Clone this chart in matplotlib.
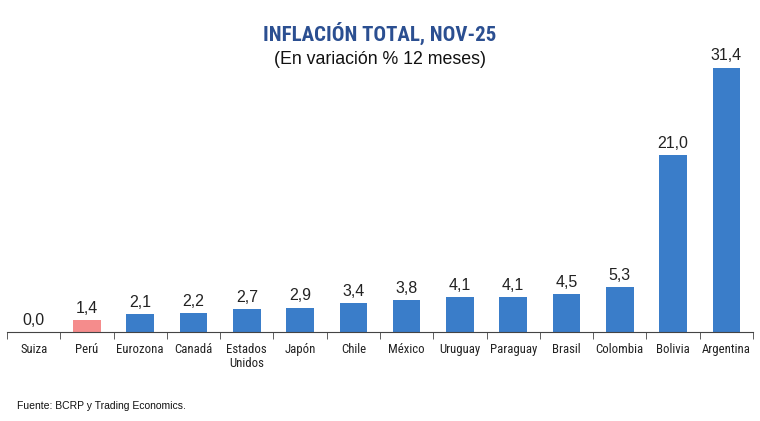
import numpy as np
import matplotlib.pyplot as plt
from matplotlib.ticker import FixedLocator

paises = ["Suiza", "Perú", "Eurozona", "Canadá", "Estados\nUnidos", "Japón", "Chile",
          "México", "Uruguay", "Paraguay", "Brasil", "Colombia", "Bolivia", "Argentina"]
inflacion = [0.0, 1.4, 2.1, 2.2, 2.7, 2.9, 3.4, 3.8, 4.1, 4.1, 4.5, 5.3, 21.0, 31.4]
etiquetas = ["0,0", "1,4", "2,1", "2,2", "2,7", "2,9", "3,4", "3,8", "4,1", "4,1", "4,5", "5,3", "21,0", "31,4"]

azul = "#3A7DC9"
rosa = "#F58C8C"
colores = [rosa if p == "Perú" else azul for p in paises]

estrecha = ['Roboto Condensed', 'Liberation Sans', 'DejaVu Sans']
normal = ['Liberation Sans', 'DejaVu Sans']
plt.rcParams['font.family'] = normal

fig = plt.figure(figsize=(7.6, 4.21), dpi=100)
ax = fig.add_axes([7 / 760, 1 - 332 / 421, 746 / 760, 282 / 421])

x = np.arange(len(paises))
bars = ax.bar(x, inflacion, width=0.52, color=colores)

for b, t in zip(bars, etiquetas):
    ax.text(b.get_x() + b.get_width() / 2, b.get_height() + 0.5, t,
            ha="center", va="bottom", fontsize=11.5, color="#222222")

ax.set_xlim(-0.5, len(paises) - 0.5)
ax.set_ylim(0, 33.5)
ax.set_xticks(x)
ax.set_xticklabels(paises, fontsize=9.2, color="#222222", linespacing=1.05, family=estrecha)
ax.tick_params(axis="x", which="major", length=0, pad=8)
ax.xaxis.set_minor_locator(FixedLocator(np.arange(-0.5, len(paises), 1.0)))
ax.tick_params(axis="x", which="minor", length=5, color="#444444", direction="out")
ax.set_yticks([])
for s in ["top", "right", "left"]:
    ax.spines[s].set_visible(False)
ax.spines["bottom"].set_color("#444444")

fig.text(0.5, 1 - 33 / 421, "INFLACIÓN TOTAL, NOV-25", ha="center", va="center",
         fontsize=15, fontweight="bold", color="#2B4F91", family=estrecha)
fig.text(0.5, 1 - 59 / 421, "(En variación % 12 meses)", ha="center", va="center",
         fontsize=12.8, color="#111111")
fig.text(17 / 760, 1 - 406 / 421, "Fuente: BCRP y Trading Economics.", ha="left", va="center",
         fontsize=7.5, color="#111111")

fig.savefig("out.png", dpi=100)
